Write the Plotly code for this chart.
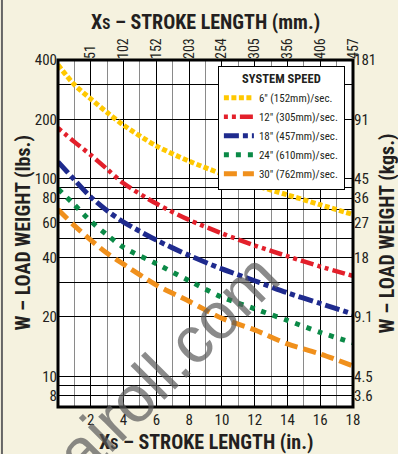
import math
import plotly.graph_objects as go

# ---- data ----
stroke_in = [0, 1, 2, 3, 4, 6, 8, 10, 12, 14, 16, 18]
w_6 = [378, 300, 254, 217, 187, 147, 123, 106, 93, 83, 74, 66]
w_12 = [181, 154, 132, 112, 95, 75, 62, 53, 46, 40.6, 36, 32.3]
w_18 = [122, 99, 81, 69, 60.5, 49, 41, 35, 30.5, 26.5, 23.4, 20.7]
w_24 = [89, 74, 61, 52, 45, 37.2, 30.5, 25.2, 22, 19.2, 16.7, 14.8]
w_30 = [70, 58, 49, 42, 37, 29, 24, 19.7, 17.2, 14.6, 13, 11.3]
series_names = ['6" (152mm)/sec.', '12" (305mm)/sec.', '18" (457mm)/sec.',
                '24" (610mm)/sec.', '30" (762mm)/sec.']

x_major = [2, 4, 6, 8, 10, 12, 14, 16, 18]
x_minor = [1, 3, 5, 7, 9, 11, 13, 15, 17]
x_labels = ['2', '4', '6', '8', '10', '12', '14', '16', '18']
mm_labels = ['51', '102', '152', '203', '254', '305', '356', '406', '457']

y_grid = [7, 8, 9, 10, 20, 30, 40, 50, 60, 70, 80, 90, 100, 200, 300, 400]
y_grid_labels = ['', '8', '', '10', '20', '', '40', '', '60', '', '80', '', '100', '200', '', '400']
kg_vals = [8, 10, 20, 40, 60, 80, 100, 200, 400]
kg_labels = ['3.6', '4.5', '9.1', '18', '27', '36', '45', '91', '181']

FONT = "Liberation Sans Narrow, Arial Narrow, Roboto Condensed, DejaVu Sans Condensed, sans-serif"
CREAM = "#F5F2DF"
INK = "#231F20"
yr = [math.log10(7), math.log10(400)]

styles = [
    dict(color="#FFC800", width=5, dash="5px,2.5px"),
    dict(color="#E3202B", width=4.5, dash="4px,4px,4px,4px,13px,4px"),
    dict(color="#1F2B8E", width=5, dash="15px,4px,5px,4px"),
    dict(color="#0B8A47", width=5, dash="5px,7px"),
    dict(color="#F0901C", width=5, dash="13px,6px"),
]

fig = go.Figure()
for name, ys, st in zip(series_names, [w_6, w_12, w_18, w_24, w_30], styles):
    fig.add_trace(go.Scatter(x=stroke_in, y=ys, mode="lines", name=name,
                             line=dict(color=st["color"], width=st["width"],
                                       dash=st["dash"], shape="spline", smoothing=0.8),
                             hoverinfo="skip"))
# invisible trace to carry the secondary (mm / kg) axes
fig.add_trace(go.Scatter(x=stroke_in, y=w_6, xaxis="x2", yaxis="y2", mode="lines",
                         opacity=0, showlegend=False, hoverinfo="skip"))

title_font = dict(family=FONT, size=20, color=INK, weight="bold")
tick_font = dict(family=FONT, size=15, color=INK)

fig.update_layout(
    width=398, height=454,
    margin=dict(l=58, r=45, t=60, b=47),
    paper_bgcolor=CREAM, plot_bgcolor="white",
    showlegend=True,
    xaxis=dict(range=[0, 18], tickmode="array", tickvals=x_major, ticktext=x_labels,
               ticks="", showgrid=True, gridcolor="black", gridwidth=1.3, zeroline=False,
               tickfont=tick_font, ticklabelstandoff=2,
               minor=dict(tickmode="array", tickvals=x_minor, showgrid=True,
                          gridcolor="#8a8a8a", gridwidth=1, ticks="")),
    xaxis2=dict(range=[0, 18], overlaying="x", side="top", anchor="y", tickmode="array",
                tickvals=x_major, ticktext=mm_labels, tickangle=-90, ticks="",
                showgrid=False, zeroline=False,
                tickfont=dict(family=FONT, size=14, color=INK)),
    yaxis=dict(type="log", range=yr, tickmode="array", tickvals=y_grid, ticktext=y_grid_labels,
               ticks="", showgrid=True, gridcolor="black", gridwidth=1.2, zeroline=False,
               tickfont=tick_font),
    yaxis2=dict(type="log", range=yr, overlaying="y", side="right", anchor="x2",
                tickmode="array", tickvals=kg_vals, ticktext=kg_labels, ticks="",
                showgrid=False, zeroline=False, tickfont=tick_font),
    legend=dict(x=0.542, y=0.983, xanchor="left", yanchor="top",
                bgcolor="white", bordercolor="black", borderwidth=1,
                font=dict(family=FONT, size=11, color=INK),
                itemwidth=30, tracegroupgap=0,
                title=dict(text="<b>SYSTEM SPEED</b>", side="top center",
                           font=dict(family=FONT, size=12.5, color=INK))),
    shapes=[
        dict(type="rect", xref="paper", yref="paper", x0=0, x1=1, y0=0, y1=1,
             line=dict(color="black", width=3), layer="above"),
        dict(type="line", xref="paper", yref="paper", x0=-0.19, x1=-0.19, y0=-0.14, y1=1.18,
             line=dict(color="#666666", width=2)),
    ],
    annotations=[
        dict(text='X<span style="font-size:15px">S</span> – STROKE LENGTH (mm.)',
             xref="paper", yref="paper", x=0.5, y=1.1095, xanchor="center", yanchor="middle",
             showarrow=False, font=title_font),
        dict(text='X<span style="font-size:15px">S</span> – STROKE LENGTH (in.)',
             xref="paper", yref="paper", x=0.5, y=-0.1, xanchor="center", yanchor="middle",
             showarrow=False, font=title_font),
        dict(text="W – LOAD WEIGHT (lbs.)", xref="paper", yref="paper",
             x=-0.122, y=0.5, xanchor="center", yanchor="middle", textangle=-90,
             showarrow=False, font=title_font),
        dict(text="W – LOAD WEIGHT (kgs.)", xref="paper", yref="paper",
             x=1.115, y=0.5, xanchor="center", yanchor="middle", textangle=-90,
             showarrow=False, font=title_font),
        dict(text="airoll.com", xref="paper", yref="paper", x=0.369, y=0.121,
             xanchor="center", yanchor="middle",
             showarrow=False, textangle=-45,
             font=dict(family="Liberation Sans, Arial, sans-serif", size=66,
                       color="rgba(90,90,90,0.7)")),
    ],
)

fig.write_html("out.html", config={"displayModeBar": False},
               post_script="document.body.style.margin='0';document.body.style.overflow='hidden';")
